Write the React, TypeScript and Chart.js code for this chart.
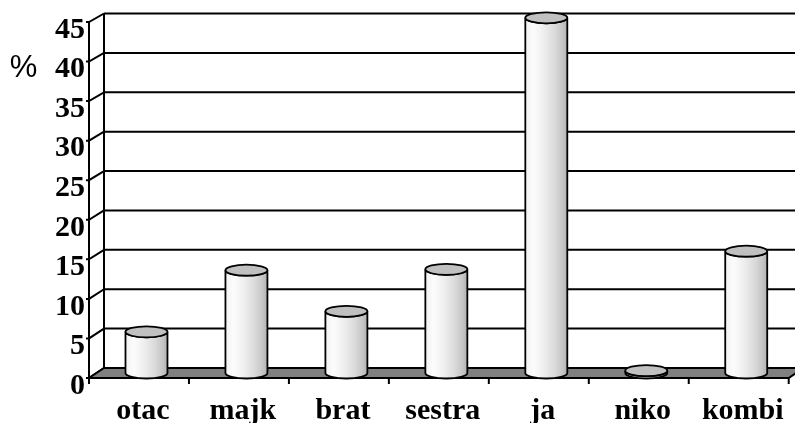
import React, { useEffect, useRef } from "react";
import { Chart, registerables } from "chart.js";

Chart.register(...registerables);

const categories = ["otac", "majk", "brat", "sestra", "ja", "niko", "kombi"];
const values = [5.2, 13.0, 7.8, 13.1, 44.9, 0.3, 15.4];
const yMin = 0;
const yMax = 45;
const yStep = 5;
const yTitle = "%";

const DEPTH_X = 15;
const DEPTH_Y = -10;

const threeD = {
  id: "threeD",
  beforeDatasetsDraw(chart: any) {
    const ctx = chart.ctx;
    const xs = chart.scales.x;
    const ys = chart.scales.y;
    const backY = (v: number) => ys.getPixelForValue(v) + DEPTH_Y + (1.5 * v) / yMax;
    const left = xs.left;
    const right = xs.right;
    const y0 = ys.getPixelForValue(0);
    ctx.save();
    ctx.strokeStyle = "#000";
    ctx.lineWidth = 2;
    ctx.lineCap = "butt";
    ys.ticks.forEach((t: any) => {
      const fy = ys.getPixelForValue(t.value);
      const by = backY(t.value);
      ctx.beginPath();
      ctx.moveTo(left + DEPTH_X, by);
      ctx.lineTo(chart.width + 20, by);
      ctx.stroke();
      ctx.beginPath();
      ctx.moveTo(left - 3, fy);
      ctx.lineTo(left, fy);
      ctx.lineTo(left + DEPTH_X, by);
      ctx.stroke();
    });
    ctx.beginPath();
    ctx.moveTo(left + DEPTH_X, backY(yMax));
    ctx.lineTo(left + DEPTH_X, backY(0));
    ctx.stroke();
    ctx.beginPath();
    ctx.moveTo(left, y0);
    ctx.lineTo(right, y0);
    ctx.lineTo(right + DEPTH_X, backY(0));
    ctx.lineTo(left + DEPTH_X, backY(0));
    ctx.closePath();
    ctx.fillStyle = "#808080";
    ctx.fill();
    ctx.stroke();
    ctx.beginPath();
    ctx.moveTo(left, ys.getPixelForValue(yMax));
    ctx.lineTo(left, y0 + 5);
    ctx.stroke();
    const n = categories.length;
    const cw = (right - left) / n;
    for (let i = 0; i <= n; i++) {
      const x = left + i * cw;
      ctx.beginPath();
      ctx.moveTo(x, y0);
      ctx.lineTo(x, y0 + 6);
      ctx.stroke();
    }
    ctx.restore();
  },
  afterDatasetsDraw(chart: any) {
    const ctx = chart.ctx;
    const meta = chart.getDatasetMeta(0);
    ctx.save();
    ctx.strokeStyle = "#000";
    ctx.lineWidth = 1.8;
    meta.data.forEach((el: any) => {
      const p = el.getProps(["x", "y", "base", "width"], true);
      const cx = p.x + DEPTH_X / 2;
      const rx = p.width / 2;
      const ry = 5.5;
      const topY = p.y + DEPTH_Y / 2;
      const botY = p.base + DEPTH_Y / 2;
      const g = ctx.createLinearGradient(cx - rx, 0, cx + rx, 0);
      g.addColorStop(0, "#f2f2f2");
      g.addColorStop(0.2, "#fcfcfc");
      g.addColorStop(0.45, "#eeeeee");
      g.addColorStop(0.7, "#dadada");
      g.addColorStop(0.88, "#c6c6c6");
      g.addColorStop(1, "#b2b2b2");
      ctx.beginPath();
      ctx.moveTo(cx - rx, topY);
      ctx.lineTo(cx - rx, botY);
      ctx.ellipse(cx, botY, rx, ry, 0, Math.PI, 0, true);
      ctx.lineTo(cx + rx, topY);
      ctx.ellipse(cx, topY, rx, ry, 0, 0, Math.PI, false);
      ctx.closePath();
      ctx.fillStyle = g;
      ctx.fill();
      ctx.stroke();
      ctx.beginPath();
      ctx.ellipse(cx, topY, rx, ry, 0, 0, Math.PI * 2);
      ctx.fillStyle = "#c0c0c0";
      ctx.fill();
      ctx.stroke();
    });
    ctx.restore();
  },
  afterDraw(chart: any) {
    const ctx = chart.ctx;
    const ys = chart.scales.y;
    ctx.save();
    ctx.fillStyle = "#000";
    ctx.font = "31px 'Liberation Sans', Arial, sans-serif";
    ctx.textAlign = "center";
    ctx.textBaseline = "middle";
    ctx.fillText(yTitle, 23.5, ys.getPixelForValue(40) + 7);
    ctx.restore();
  },
};

export default function App() {
  const ref = useRef<HTMLCanvasElement | null>(null);
  useEffect(() => {
    document.body.style.margin = "0";
    const canvas = ref.current!;
    const chart = new Chart(canvas, {
      type: "bar",
      data: {
        labels: categories,
        datasets: [
          {
            data: values,
            backgroundColor: "rgba(0,0,0,0)",
            borderWidth: 0,
            barPercentage: 0.84,
            categoryPercentage: 0.5,
          },
        ],
      },
      options: {
        responsive: false,
        animation: false,
        layout: { padding: { top: 22, right: 6, left: 0, bottom: 0 } },
        plugins: { legend: { display: false }, tooltip: { enabled: false } },
        scales: {
          x: {
            grid: { display: false, drawTicks: false },
            border: { display: false },
            ticks: {
              color: "#000",
              font: { family: "'Liberation Serif', 'Times New Roman', serif", size: 30, weight: "bold" },
              padding: 15,
              labelOffset: 4,
              maxRotation: 0,
              autoSkip: false,
            },
            afterFit(scale: any) {
              scale.height = 45;
            },
          },
          y: {
            min: yMin,
            max: yMax,
            grid: { display: false, drawTicks: false },
            border: { display: false },
            ticks: {
              stepSize: yStep,
              color: "#000",
              font: { family: "'Liberation Serif', 'Times New Roman', serif", size: 30, weight: "bold" },
              padding: 4,
              labelOffset: 8,
            },
            afterFit(scale: any) {
              scale.width = 89;
            },
          },
        },
      },
      plugins: [threeD],
    });
    return () => chart.destroy();
  }, []);
  return <canvas ref={ref} width={795} height={423} style={{ display: "block" }} />;
}
